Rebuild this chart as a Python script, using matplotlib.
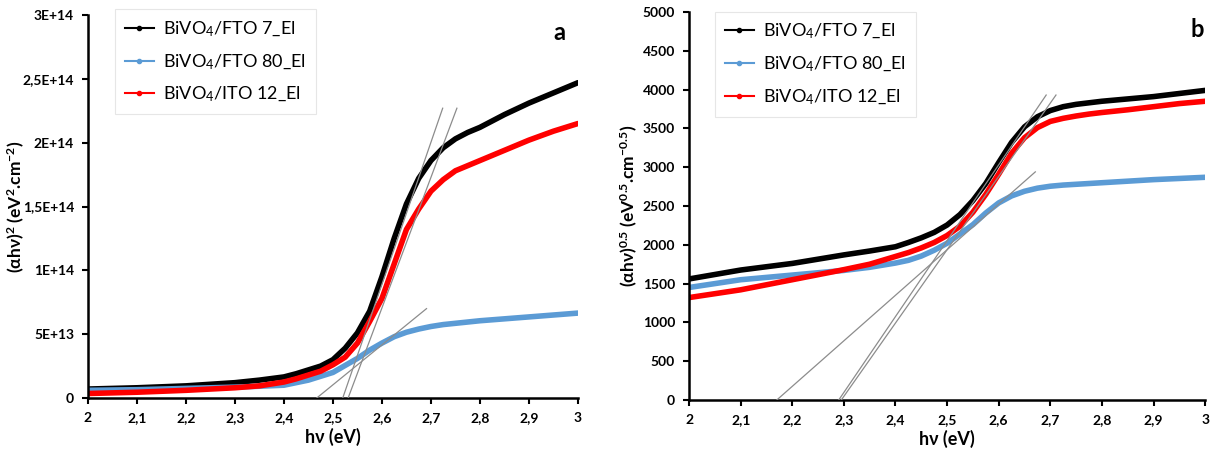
import matplotlib
matplotlib.use("Agg")
import matplotlib.pyplot as plt
from matplotlib.lines import Line2D

plt.rcParams['font.family'] = ['Lato', 'DejaVu Sans']
plt.rcParams['font.weight'] = 'bold'
plt.rcParams['mathtext.default'] = 'regular'

# photon energy points (eV)
hv = [2.0, 2.1, 2.2, 2.3, 2.35, 2.4, 2.425, 2.45, 2.475, 2.5, 2.525, 2.55, 2.575, 2.6,
      2.625, 2.65, 2.675, 2.7, 2.725, 2.75, 2.775, 2.8, 2.85, 2.9, 2.95, 3.0]

# panel a : (alpha h nu)^2 in units of 1E+14
a_fto7 = [0.07, 0.08, 0.095, 0.12, 0.14, 0.165, 0.19, 0.22, 0.25, 0.30, 0.39, 0.51, 0.68, 0.95,
          1.25, 1.52, 1.72, 1.86, 1.96, 2.03, 2.08, 2.12, 2.22, 2.31, 2.39, 2.47]
a_fto80 = [0.06, 0.065, 0.075, 0.085, 0.092, 0.10, 0.12, 0.14, 0.17, 0.20, 0.255, 0.31, 0.375, 0.43,
           0.48, 0.515, 0.54, 0.56, 0.575, 0.585, 0.595, 0.605, 0.62, 0.635, 0.65, 0.665]
a_ito12 = [0.035, 0.045, 0.06, 0.08, 0.095, 0.125, 0.15, 0.18, 0.21, 0.26, 0.32, 0.43, 0.60, 0.78,
           1.05, 1.32, 1.48, 1.62, 1.71, 1.78, 1.82, 1.86, 1.94, 2.02, 2.09, 2.15]

# panel b : (alpha h nu)^0.5
b_fto7 = [1560, 1675, 1760, 1870, 1920, 1975, 2030, 2090, 2160, 2255, 2390, 2570, 2790, 3060,
          3320, 3520, 3650, 3730, 3780, 3810, 3830, 3850, 3880, 3910, 3950, 3990]
b_fto80 = [1450, 1550, 1610, 1670, 1710, 1765, 1800, 1855, 1930, 2020, 2140, 2260, 2410, 2540,
           2630, 2690, 2730, 2755, 2770, 2780, 2790, 2800, 2820, 2840, 2855, 2870]
b_ito12 = [1320, 1420, 1550, 1680, 1750, 1850, 1900, 1960, 2030, 2120, 2240, 2420, 2650, 2910,
           3180, 3380, 3510, 3590, 3630, 3660, 3685, 3705, 3740, 3780, 3820, 3850]

# tangent lines: (x0, x1, y0, y1)
a_tangents = [(2.52, 2.724, 0.0, 2.27), (2.531, 2.753, 0.0, 2.27), (2.467, 2.691, 0.0, 0.70)]
b_tangents = [(2.17, 2.671, 0, 2940), (2.29, 2.692, 0, 3930), (2.295, 2.711, 0, 3930)]

labels = ['BiVO$_4$/FTO 7_El', 'BiVO$_4$/FTO 80_El', 'BiVO$_4$/ITO 12_El']
colors = ['black', '#5b9bd5', '#ff0000']

fig = plt.figure(figsize=(12.2, 4.5), dpi=100)
ax1 = fig.add_axes([0.0721, 0.1156, 0.4016, 0.851])
ax2 = fig.add_axes([0.5648, 0.1111, 0.4230, 0.8622])


def style(ax, ylabel):
    for s in ['top', 'right']:
        ax.spines[s].set_visible(False)
    for s in ['left', 'bottom']:
        ax.spines[s].set_linewidth(1.8)
    ax.tick_params(direction='out', length=4, width=1.5, labelsize=10, pad=6)
    ax.set_xlim(2, 3)
    ax.set_xticks([2.0, 2.1, 2.2, 2.3, 2.4, 2.5, 2.6, 2.7, 2.8, 2.9, 3.0])
    ax.set_xticklabels(['2', '2,1', '2,2', '2,3', '2,4', '2,5', '2,6', '2,7', '2,8', '2,9', '3'])
    ax.set_xlabel('hν (eV)', fontsize=13, fontweight='bold', labelpad=3)
    ax.set_ylabel(ylabel, fontsize=12.5, fontweight='bold')


for ax, series, tang in [(ax1, [a_fto7, a_fto80, a_ito12], a_tangents),
                         (ax2, [b_fto7, b_fto80, b_ito12], b_tangents)]:
    for x0, x1, y0, y1 in tang:
        ax.plot([x0, x1], [y0, y1], color='#8c8c8c', lw=0.9, zorder=3)
    for ys, c in zip(series, colors):
        ax.plot(hv, ys, color=c, lw=4, solid_capstyle='round', solid_joinstyle='round', zorder=2)

# panel a
ax1.set_ylim(0, 3)
ax1.set_yticks([0, 0.5, 1, 1.5, 2, 2.5, 3])
ax1.set_yticklabels(['0', '5E+13', '1E+14', '1,5E+14', '2E+14', '2,5E+14', '3E+14'])
style(ax1, '(αhν)$^2$ (eV$^2$.cm$^{-2}$)')
ax1.yaxis.set_label_coords(-0.124, 0.5)
ax1.text(0.975, 0.985, 'a', transform=ax1.transAxes, fontsize=17, fontweight='bold',
         ha='right', va='top')

# panel b
ax2.set_ylim(0, 5000)
ax2.set_yticks(range(0, 5001, 500))
style(ax2, '(αhν)$^{0.5}$ (eV$^{0.5}$.cm$^{-0.5}$)')
ax2.yaxis.set_label_coords(-0.095, 0.5)
ax2.text(0.998, 0.985, 'b', transform=ax2.transAxes, fontsize=17, fontweight='bold',
         ha='right', va='top')

handles = [Line2D([], [], color=c, lw=1.5, marker='o', markersize=3) for c in colors]
for ax, anchor in [(ax1, (0.055, 1.015)), (ax2, (0.05, 1.0))]:
    leg = ax.legend(handles, labels + [], loc='upper left', bbox_to_anchor=anchor,
                    prop={'family': ['Lato', 'DejaVu Sans'], 'size': 13, 'weight': 'normal'},
                    frameon=True, fancybox=False, handlelength=1.6,
                    handletextpad=0.5, labelspacing=0.75, borderpad=0.55,
                    borderaxespad=0)
    leg.get_frame().set_edgecolor('#e0e0e0')
    leg.get_frame().set_linewidth(0.8)

fig.savefig('out.png', dpi=100)
